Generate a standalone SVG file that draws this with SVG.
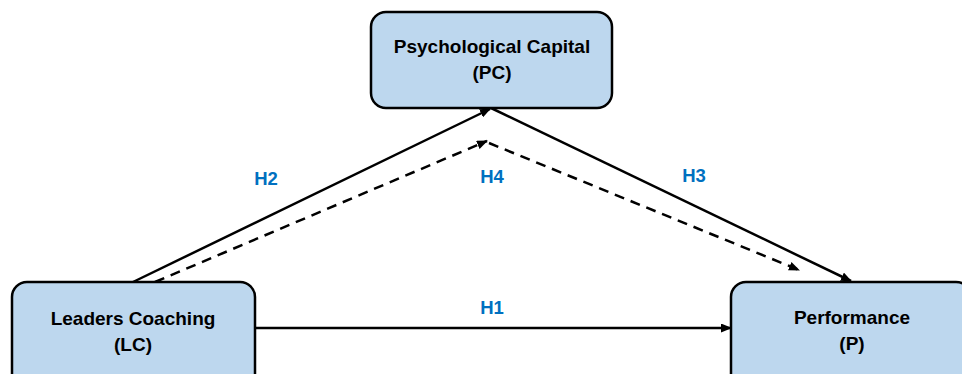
<svg xmlns="http://www.w3.org/2000/svg" width="962" height="374" viewBox="0 0 962 374">
<defs>
<style>
.box{fill:#BDD7EE;stroke:#000;stroke-width:2.5}
.t{font-family:"Liberation Sans",Arial,sans-serif;font-weight:bold;font-size:19px;fill:#000;text-anchor:middle}
.h{font-family:"Liberation Sans",Arial,sans-serif;font-weight:bold;font-size:18.5px;fill:#0070C0;text-anchor:middle}
.ln{fill:none;stroke:#000;stroke-width:2.5}
.dash{stroke-dasharray:10,7}
</style>
<marker id="ah" markerUnits="userSpaceOnUse" markerWidth="11" markerHeight="9" refX="10" refY="4.5" orient="auto">
<path d="M0,0 L11,4.5 L0,9 z" fill="#000"/>
</marker>
</defs>
<rect width="962" height="374" fill="#fff"/>
<g id="connectors">
<path class="ln" d="M133,282 L490,109" marker-end="url(#ah)"/>
<path class="ln" d="M491,108 L851,281" marker-end="url(#ah)"/>
<path class="ln dash" d="M155,282 L487,141" marker-end="url(#ah)"/>
<path class="ln dash" d="M489,143 L799,270" marker-end="url(#ah)"/>
<path class="ln" d="M255,328 L731,328" marker-end="url(#ah)"/>
<text class="h" x="266" y="185">H2</text>
<text class="h" x="492" y="183">H4</text>
<text class="h" x="694" y="182">H3</text>
<text class="h" x="492" y="314">H1</text>
</g>
<g id="pc">
<rect class="box" x="371" y="12" width="241" height="96" rx="15"/>
<text class="t" x="492" y="53">Psychological Capital</text>
<text class="t" x="492" y="79">(PC)</text>
</g>
<g id="lc">
<rect class="box" x="12" y="282" width="243" height="110" rx="15"/>
<text class="t" x="133" y="325">Leaders Coaching</text>
<text class="t" x="133" y="351">(LC)</text>
</g>
<g id="p">
<rect class="box" x="731" y="282" width="240" height="110" rx="15"/>
<text class="t" x="852" y="324">Performance</text>
<text class="t" x="852" y="350">(P)</text>
</g>
</svg>
